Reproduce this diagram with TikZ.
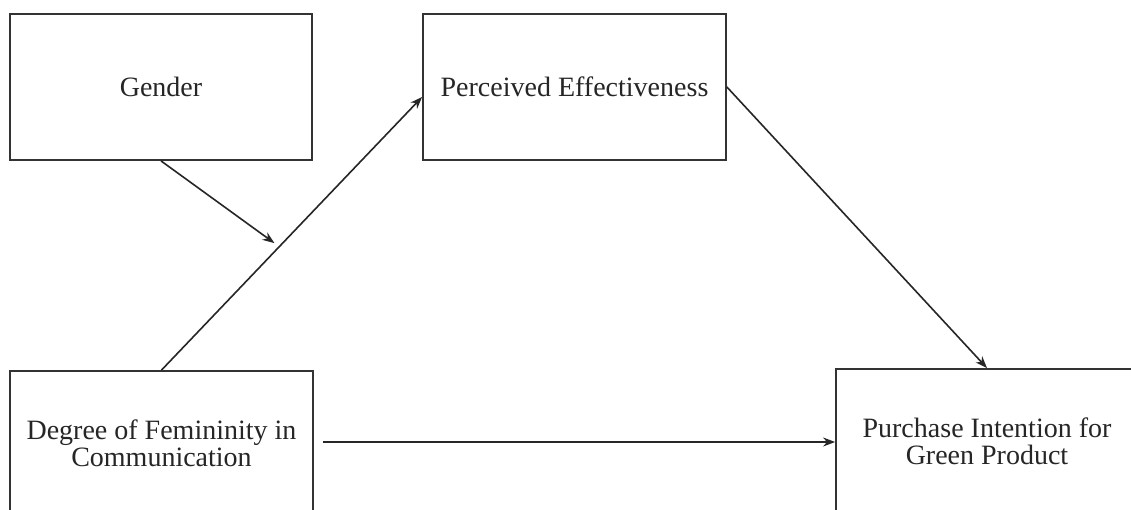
\documentclass[tikz,border=0pt]{standalone}
\usepackage{fontspec}
\setmainfont{Liberation Serif}
\usetikzlibrary{arrows.meta,calc}
\tikzset{
  box/.style={draw=black!80, line width=1.8pt, rectangle, inner sep=0pt, align=center,
    text=black!85, font=\fontsize{28}{27}\selectfont},
  conn/.style={draw=black!85, line width=1.6pt, -{Stealth[length=12pt,width=9pt]}}
}
\begin{document}
\begin{tikzpicture}[x=1pt,y=-1pt]
\clip (0,0) rectangle (1131,509);
\fill[white] (0,0) rectangle (1131,509);
\node[box, minimum width=302pt, minimum height=146pt] (gender) at (161,87) {Gender};
\node[box, minimum width=303pt, minimum height=146pt] (pe) at (574.5,87) {Perceived Effectiveness};
\node[box, minimum width=303pt, minimum height=144pt] (deg) at (161.5,443) {Degree of Femininity in\\Communication};
\node[box, minimum width=302pt, minimum height=144pt] (pi) at (987,441) {Purchase Intention for\\Green Product};
\draw[conn] (deg.north) -- ([yshift=-10pt]pe.west);
\coordinate (mod) at ($(deg.north)!0.452!([yshift=-10pt]pe.west)$);
\draw[conn, shorten >=6pt] (gender.south) -- (mod);
\draw[conn] (pe.east) -- (pi.north);
\draw[conn, shorten <=9pt] ([yshift=1pt]deg.east) -- ([yshift=1pt]deg.east -| pi.west);
\end{tikzpicture}
\end{document}
